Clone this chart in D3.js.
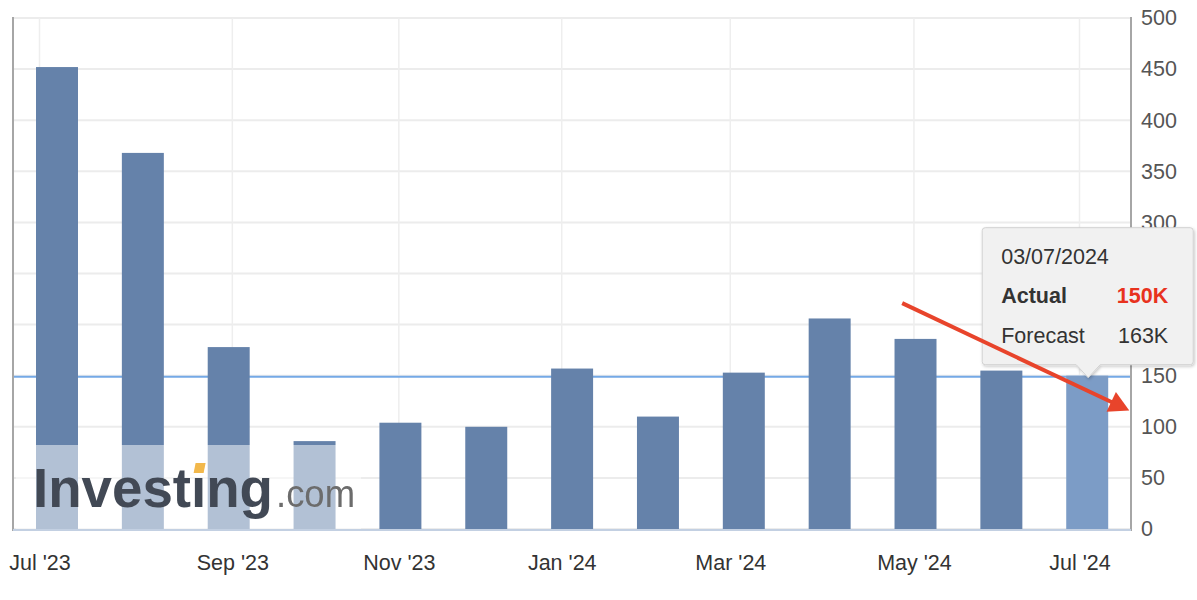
<!DOCTYPE html>
<html><head><meta charset="utf-8">
<script src="https://cdn.jsdelivr.net/npm/d3@7"></script>
<style>
html,body{margin:0;padding:0;background:#fff;}
svg{display:block;font-family:"Liberation Sans",Arial,Helvetica,sans-serif;}
</style></head><body>
<svg id="chart" width="1197" height="600"></svg>
<script>
// ---- data ----
const releaseDates = ["2023-07-06","2023-08-02","2023-08-30","2023-10-04","2023-11-01","2023-12-06",
                      "2024-01-04","2024-01-31","2024-03-06","2024-04-03","2024-05-01","2024-06-05","2024-07-03"];
const releaseTimeUTC = "12:15";
const actualValues = [452, 368, 178, 86, 104, 100, 157, 110, 153, 206, 186, 155, 150];
const yTickValues = [0, 50, 100, 150, 200, 250, 300, 350, 400, 450, 500];
const xTickDates = ["2023-07-01","2023-09-01","2023-11-01","2024-01-01","2024-03-01","2024-05-01","2024-07-01"];
const xTickLabels = ["Jul '23","Sep '23","Nov '23","Jan '24","Mar '24","May '24","Jul '24"];
const referenceValue = 150;
const tooltipDate = "03/07/2024";
const tooltipRows = [["Actual", "150K"], ["Forecast", "163K"]];
const highlightIndex = 12;
const arrowStart = [9.845, 221];   // [point index, value]
const arrowEnd = [12.49, 116];

// ---- setup ----
const svg = d3.select("#chart");
const W = 1197, H = 600;
const plot = {left: 13, right: 1131, top: 18, bottom: 529};
const n = actualValues.length;

const times = releaseDates.map(d => new Date(d + "T" + releaseTimeUTC + ":00Z").getTime());
function ordinalPos(t) {
  if (t <= times[0]) return (t - times[0]) / (times[1] - times[0]);
  if (t >= times[n - 1]) return (n - 1) + (t - times[n - 1]) / (times[n - 1] - times[n - 2]);
  let i = 0;
  while (times[i + 1] <= t) i++;
  return i + (t - times[i]) / (times[i + 1] - times[i]);
}

const x = d3.scaleLinear().domain([-0.5125, n - 1 + 0.51]).range([plot.left, plot.right]);
const y = d3.scaleLinear().domain([0, 500]).range([plot.bottom, plot.top]);
const tickPos = xTickDates.map(d => ordinalPos(new Date(d + "T00:00:00Z").getTime()));
const barW = x(0.489) - x(0);

// defs
const defs = svg.append("defs");
const sh = defs.append("filter").attr("id", "shadow").attr("x", "-10%").attr("y", "-10%").attr("width", "130%").attr("height", "130%");
sh.append("feDropShadow").attr("dx", 1).attr("dy", 1.5).attr("stdDeviation", 1.5).attr("flood-color", "#000").attr("flood-opacity", 0.22);
const bl = defs.append("filter").attr("id", "soft");
bl.append("feGaussianBlur").attr("stdDeviation", 0.6);

// gridlines
svg.append("g").selectAll("line").data(yTickValues).join("line")
  .attr("x1", plot.left).attr("x2", plot.right)
  .attr("y1", d => y(d)).attr("y2", d => y(d))
  .attr("stroke", "#ececec").attr("stroke-width", 2);
svg.append("g").selectAll("line").data(tickPos).join("line")
  .attr("x1", d => x(d)).attr("x2", d => x(d))
  .attr("y1", plot.top).attr("y2", plot.bottom)
  .attr("stroke", "#eeeeee").attr("stroke-width", 1.5);

// reference line
svg.append("line")
  .attr("x1", plot.left).attr("x2", plot.right)
  .attr("y1", y(referenceValue) + 1).attr("y2", y(referenceValue) + 1)
  .attr("stroke", "#74a9e6").attr("stroke-width", 2);

// bars
svg.append("g").selectAll("rect").data(actualValues).join("rect")
  .attr("x", (d, i) => x(i) - barW / 2)
  .attr("width", barW)
  .attr("y", d => y(d))
  .attr("height", d => y(0) - y(d))
  .attr("fill", (d, i) => i === highlightIndex ? "#7c9cc6" : "#6582aa");

// watermark
const wm = svg.append("g");
wm.append("rect").attr("x", 16).attr("y", 445).attr("width", 345).attr("height", 84)
  .attr("fill", "#fff").attr("opacity", 0.5);
const wmText = wm.append("g").attr("filter", "url(#soft)");
const inv = wmText.append("text").attr("x", 33).attr("y", 507)
  .attr("font-size", 56).attr("font-weight", "bold").attr("fill", "#434a55")
  .attr("textLength", 240).attr("lengthAdjust", "spacingAndGlyphs")
  .text("Invest\u0131ng");
wmText.append("text").attr("x", 276).attr("y", 507)
  .attr("font-size", 39).attr("fill", "#6c6c6c")
  .attr("textLength", 79).attr("lengthAdjust", "spacingAndGlyphs")
  .text(".com");
try {
  const ext = inv.node().getExtentOfChar(6);
  const cx = ext.x + ext.width / 2;
  wmText.append("path")
    .attr("d", `M${cx - 5},473 L${cx + 5},473 L${cx + 7},463 L${cx - 3},463 Z`)
    .attr("fill", "#f2b84b");
} catch (e) {}

// axis lines
svg.append("line").attr("x1", plot.left).attr("x2", plot.left).attr("y1", plot.top - 1).attr("y2", plot.bottom + 2)
  .attr("stroke", "#a6a6a6").attr("stroke-width", 2);
svg.append("line").attr("x1", plot.right).attr("x2", plot.right).attr("y1", plot.top - 1).attr("y2", plot.bottom + 2)
  .attr("stroke", "#a6a6a6").attr("stroke-width", 2);
svg.append("line").attr("x1", plot.left).attr("x2", plot.right).attr("y1", plot.bottom + 1).attr("y2", plot.bottom + 1)
  .attr("stroke", "#c3d0e2").attr("stroke-width", 2);

// y axis (right)
const yAxis = svg.append("g").attr("transform", `translate(${plot.right},0)`)
  .call(d3.axisRight(y).tickValues(yTickValues).tickSize(0).tickPadding(10).tickFormat(d3.format("d")));
yAxis.select(".domain").remove();
yAxis.selectAll("text").attr("font-size", 21.5).attr("fill", "#555")
  .attr("font-family", "'Liberation Sans',Arial,sans-serif");

// x axis
const xAxis = svg.append("g").attr("transform", `translate(0,${plot.bottom})`)
  .call(d3.axisBottom(x).tickValues(tickPos).tickSize(0).tickPadding(26)
    .tickFormat((d, i) => xTickLabels[i]));
xAxis.select(".domain").remove();
xAxis.selectAll("text").attr("font-size", 21.5).attr("fill", "#333")
  .attr("font-family", "'Liberation Sans',Arial,sans-serif");

// tooltip
const ax = x(highlightIndex), ay = y(actualValues[highlightIndex]);
const bx0 = ax - 105, bx1 = ax + 106, by0 = ay - 148, by1 = ay - 11;
const r = 3;
const tipPath = `M${bx0 + r},${by0} L${bx1 - r},${by0} Q${bx1},${by0} ${bx1},${by0 + r} L${bx1},${by1 - r} Q${bx1},${by1} ${bx1 - r},${by1}
  L${ax + 13},${by1} L${ax + 1},${ay + 2} L${ax - 11},${by1} L${bx0 + r},${by1} Q${bx0},${by1} ${bx0},${by1 - r}
  L${bx0},${by0 + r} Q${bx0},${by0} ${bx0 + r},${by0} Z`;
const tip = svg.append("g");
tip.append("path").attr("d", tipPath).attr("fill", "#f1f1f1").attr("stroke", "#d2d2d2").attr("stroke-width", 1)
  .attr("filter", "url(#shadow)");
tip.append("text").attr("x", bx0 + 19).attr("y", by0 + 36).attr("font-size", 21.5).attr("fill", "#333").text(tooltipDate);
tooltipRows.forEach((row, i) => {
  const yy = by0 + 75 + i * 40;
  tip.append("text").attr("x", bx0 + 19).attr("y", yy).attr("font-size", 21.5).attr("fill", "#333")
    .attr("font-weight", i === 0 ? "bold" : "normal").text(row[0]);
  tip.append("text").attr("x", bx1 - 25).attr("y", yy).attr("font-size", 21.5)
    .attr("text-anchor", "end")
    .attr("fill", i === 0 ? "#e8321e" : "#333")
    .attr("font-weight", i === 0 ? "bold" : "normal").text(row[1]);
});

// red arrow annotation
const p0 = [x(arrowStart[0]), y(arrowStart[1])], p1 = [x(arrowEnd[0]), y(arrowEnd[1])];
const dx = p1[0] - p0[0], dy = p1[1] - p0[1], len = Math.hypot(dx, dy);
const ux = dx / len, uy = dy / len, headL = 20, headW = 11;
const base = [p1[0] - ux * headL, p1[1] - uy * headL];
svg.append("line").attr("x1", p0[0]).attr("y1", p0[1]).attr("x2", base[0] + ux * 2).attr("y2", base[1] + uy * 2)
  .attr("stroke", "#e8442b").attr("stroke-width", 4).attr("stroke-linecap", "butt");
svg.append("path")
  .attr("d", `M${p1[0]},${p1[1]} L${base[0] - uy * headW},${base[1] + ux * headW} L${base[0] + uy * headW},${base[1] - ux * headW} Z`)
  .attr("fill", "#e8442b");
</script>
</body></html>
